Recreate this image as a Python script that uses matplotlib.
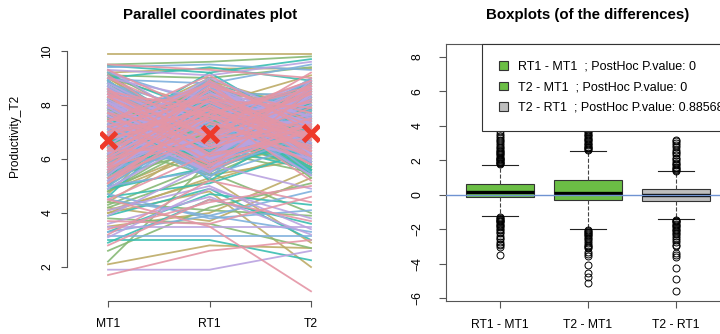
# Parallel coordinates + boxplots of the differences
#---------------------------------------------------

import matplotlib.pyplot as plt
from matplotlib.patches import Patch

plt.rcParams['font.family'] = ['Liberation Sans', 'DejaVu Sans']


# 1 Data
#-------

measures = ['MT1', 'RT1', 'T2']

MT1 = [9.9, 9.5, 9.45, 9.4, 9.3, 9.5, 9.2, 9.1, 9.0, 8.95,
       1.9, 1.7, 2.1, 2.2, 3.0, 3.15, 3.5, 4.5, 4.0, 3.8,
       2.9, 3.3, 3.6, 3.2, 4.2, 4.4, 3.9, 4.7, 4.1, 3.4,
       5.2, 5.8, 6.3, 7.1, 7.9, 8.4, 6.6, 5.5, 4.9, 8.8,
       8.6, 7.4, 6.1, 5.3, 4.6, 7.7, 8.2, 6.9, 5.9, 9.2,
       6.8, 7.3, 8.0, 5.6, 4.8, 6.4, 7.6, 8.5, 9.0, 5.1,
       7.0, 6.2, 5.4, 8.7, 7.2, 6.0, 4.4, 8.1, 7.5, 6.7,
       5.7, 8.3, 6.5, 7.8, 9.1, 5.0, 6.9, 7.4, 8.9, 4.3,
       6.3, 7.1, 8.6, 5.8, 4.7, 7.9, 6.6, 5.2, 8.4, 7.7,
       8.0, 6.4, 5.5, 7.3, 9.3, 6.1, 4.9, 8.2, 7.0, 5.9,
       3.1, 3.7, 4.0, 2.6, 3.3, 4.5, 3.9, 2.8, 3.5, 4.2,
       7.5, 8.8, 6.0, 5.3, 6.8, 7.6, 8.5, 5.6, 6.2, 9.0,
       6.6, 5.1, 7.2, 8.7, 6.9, 5.7, 7.9, 8.3, 4.6, 6.4,
       8.1, 7.0, 5.9, 6.5, 9.1, 7.4, 5.4, 6.7, 8.6, 7.8,
       5.0, 6.3, 7.7, 8.4, 6.1, 4.8, 7.1, 8.9, 5.6, 6.8,
       7.3, 8.0, 6.6, 5.2, 7.6, 8.5, 6.0, 5.8, 7.9, 9.2,
       6.2, 4.5, 8.2, 7.5, 5.5, 6.9, 8.7, 7.2, 6.4, 5.3,
       8.3, 6.7, 7.0, 5.1, 9.0, 7.8, 6.5, 4.9, 8.1, 7.4,
       4.1, 5.6, 6.1, 7.2, 8.8, 6.3, 5.9, 7.6, 8.0, 6.8,
       7.1, 8.6, 5.4, 6.6, 7.7, 8.4, 6.0, 5.7, 7.3, 6.9,
       5.3, 6.7, 8.1, 7.4, 5.9, 8.8, 6.2, 7.6, 4.9, 8.3,
       7.0, 5.6, 6.4, 8.6, 7.8, 5.1, 9.0, 6.9, 7.3, 6.0,
       8.4, 7.2, 5.4, 6.6, 8.9, 7.7, 5.8, 6.3, 8.0, 7.5,
       6.1, 8.7, 7.9, 5.5, 6.8, 7.1, 8.2, 5.0, 6.5, 9.1,
       7.6, 6.0, 8.5, 7.0, 5.7, 6.4, 7.8, 8.6, 5.3, 6.9,
       8.1, 5.9, 6.7, 9.2, 7.4, 6.2, 5.6, 8.3, 7.2, 4.8,
       6.6, 7.9, 5.2, 8.0, 6.3, 8.8, 7.5, 5.8, 6.1, 7.7,
       9.0, 6.8, 7.3, 5.5, 8.4, 6.0, 7.1, 8.9, 6.4, 5.1,
       7.2, 8.5, 6.5, 7.6, 5.4, 8.2, 6.9, 7.0, 8.7, 6.2,
       5.7, 7.4, 8.3, 6.1, 7.9, 5.0, 8.6, 6.7, 7.3, 9.3,
       6.8, 5.5, 7.7, 8.1, 6.3, 7.5, 5.9, 8.4, 6.6, 7.1,
       8.0, 6.4, 5.8, 7.2, 8.8, 6.9, 7.6, 5.3, 8.2, 6.0]

RT1 = [9.9, 9.6, 9.2, 9.5, 9.1, 9.3, 9.35, 9.0, 9.4, 8.8,
       1.9, 2.6, 2.8, 5.9, 3.0, 3.15, 3.5, 3.5, 4.8, 3.6,
       4.5, 3.9, 4.6, 5.2, 3.7, 4.1, 4.9, 3.8, 5.0, 4.4,
       7.0, 6.2, 8.1, 5.4, 7.6, 6.8, 8.9, 6.5, 5.7, 7.3,
       6.0, 8.3, 7.5, 6.9, 5.1, 8.7, 6.4, 7.8, 8.0, 7.2,
       8.5, 6.6, 5.8, 7.9, 6.3, 9.0, 7.1, 6.0, 8.2, 7.7,
       5.5, 7.4, 8.6, 6.1, 8.8, 7.0, 6.7, 5.9, 7.3, 8.4,
       7.9, 6.5, 7.2, 8.1, 6.8, 5.6, 8.5, 9.1, 6.2, 5.8,
       8.0, 5.3, 6.9, 7.6, 8.4, 6.3, 7.4, 8.8, 5.9, 7.0,
       6.7, 8.2, 7.8, 5.6, 7.1, 8.6, 6.4, 7.5, 9.2, 6.1,
       4.9, 3.6, 5.3, 4.2, 4.7, 3.9, 5.8, 4.5, 4.0, 5.5,
       6.3, 7.7, 8.4, 6.9, 5.5, 8.0, 7.2, 6.6, 8.7, 7.4,
       7.8, 8.3, 6.0, 7.1, 9.0, 6.8, 5.7, 7.5, 8.1, 6.4,
       6.2, 8.8, 7.3, 5.4, 7.7, 6.5, 8.2, 7.9, 6.1, 8.5,
       8.6, 7.0, 5.9, 7.6, 8.4, 6.7, 7.2, 6.3, 8.9, 7.5,
       5.8, 7.3, 8.7, 6.9, 6.0, 7.8, 8.3, 7.1, 6.6, 8.0,
       7.6, 6.2, 7.0, 8.5, 7.4, 5.5, 6.8, 8.2, 7.9, 6.4,
       6.9, 8.1, 5.6, 7.3, 7.9, 6.6, 8.6, 7.2, 6.0, 8.8,
       5.2, 7.5, 8.3, 6.4, 7.0, 8.9, 7.7, 5.8, 6.5, 7.1,
       8.4, 6.1, 7.6, 8.0, 5.9, 7.3, 6.8, 8.6, 7.4, 6.2,
       7.2, 8.4, 6.1, 5.8, 8.9, 6.6, 7.7, 5.5, 7.0, 8.1,
       6.3, 8.6, 7.4, 6.0, 5.6, 7.9, 6.8, 8.3, 5.9, 7.5,
       6.5, 5.7, 8.0, 7.3, 6.2, 8.7, 7.1, 6.4, 5.4, 8.5,
       7.8, 6.1, 5.9, 8.2, 7.6, 6.9, 5.2, 7.4, 8.8, 6.7,
       5.8, 7.7, 6.3, 8.9, 7.1, 8.4, 6.0, 5.5, 7.9, 8.3,
       6.9, 8.0, 7.3, 6.4, 5.7, 7.8, 8.6, 6.2, 9.0, 7.0,
       8.1, 6.5, 7.6, 5.9, 8.3, 7.2, 6.1, 8.8, 7.4, 5.6,
       6.7, 7.9, 8.5, 7.1, 6.0, 8.2, 5.8, 6.6, 7.7, 8.4,
       5.5, 6.8, 8.9, 6.3, 7.5, 5.9, 8.1, 7.8, 6.4, 7.2,
       8.6, 6.0, 7.0, 8.7, 5.6, 7.4, 6.9, 8.3, 6.1, 7.6,
       7.3, 8.5, 6.2, 5.8, 8.0, 6.6, 7.9, 7.1, 8.8, 5.7,
       6.4, 7.7, 8.2, 6.8, 7.0, 8.9, 5.5, 7.5, 6.3, 8.1]

T2 = [9.9, 9.8, 9.7, 9.3, 9.6, 9.0, 9.35, 9.4, 8.9, 9.5,
      2.6, 3.0, 2.7, 7.0, 2.25, 3.15, 3.5, 1.1, 2.0, 2.7,
      3.6, 4.8, 3.2, 4.4, 5.3, 3.9, 3.0, 4.1, 3.4, 5.0,
      8.3, 5.9, 7.2, 6.6, 5.4, 8.7, 7.8, 6.1, 7.5, 6.9,
      7.4, 6.8, 8.9, 5.7, 6.3, 7.0, 8.2, 5.2, 9.1, 6.5,
      6.2, 8.5, 7.1, 6.7, 7.9, 5.6, 8.0, 7.3, 6.4, 8.6,
      8.8, 5.8, 6.9, 7.7, 6.0, 8.4, 7.2, 9.0, 5.5, 7.6,
      6.6, 7.9, 8.1, 5.3, 7.4, 8.7, 6.2, 7.0, 8.3, 6.8,
      7.1, 8.6, 6.0, 8.9, 5.9, 7.7, 8.0, 6.5, 7.3, 9.2,
      5.7, 7.5, 8.4, 6.9, 8.1, 6.3, 7.8, 5.4, 7.0, 8.8,
      3.8, 4.6, 2.9, 5.1, 4.3, 3.3, 4.9, 3.7, 5.6, 4.0,
      8.0, 6.4, 7.6, 8.5, 7.2, 5.8, 6.7, 9.0, 7.3, 6.1,
      6.9, 7.3, 8.8, 6.0, 7.5, 8.2, 6.6, 5.5, 7.8, 8.4,
      7.7, 6.1, 8.3, 7.0, 5.9, 8.6, 7.4, 6.3, 8.0, 7.2,
      6.5, 8.9, 7.3, 5.8, 7.9, 6.7, 8.5, 7.1, 6.2, 8.1,
      8.7, 6.0, 7.0, 7.8, 8.3, 6.4, 5.6, 7.6, 8.9, 7.1,
      7.3, 6.8, 5.7, 8.0, 8.8, 7.5, 6.3, 7.9, 6.6, 8.2,
      5.9, 7.6, 8.4, 6.5, 7.1, 8.3, 7.0, 6.1, 8.7, 7.4,
      6.3, 8.1, 6.9, 7.7, 6.0, 7.2, 8.6, 7.5, 5.6, 8.9,
      7.9, 7.0, 8.2, 6.4, 7.6, 5.9, 8.0, 6.7, 7.3, 8.5,
      6.4, 5.9, 8.6, 7.1, 6.3, 7.8, 5.5, 8.2, 7.4, 6.7,
      8.8, 7.0, 6.1, 7.6, 8.4, 5.8, 7.3, 6.5, 8.0, 6.9,
      7.2, 8.5, 6.6, 5.7, 7.9, 6.2, 8.7, 7.5, 6.0, 8.3,
      5.6, 7.7, 8.9, 6.8, 6.0, 8.1, 7.4, 6.3, 5.9, 7.0,
      8.2, 6.5, 7.1, 5.8, 8.6, 6.9, 7.8, 8.4, 6.2, 5.5,
      7.5, 6.1, 8.3, 7.9, 6.7, 5.4, 7.2, 8.8, 6.4, 7.6,
      5.9, 8.0, 6.8, 7.3, 5.6, 8.5, 7.7, 6.0, 8.9, 7.1,
      6.6, 5.8, 7.4, 8.6, 7.0, 6.3, 8.1, 7.9, 5.7, 8.4,
      8.7, 7.2, 6.0, 5.5, 8.2, 7.6, 6.5, 6.9, 8.0, 5.9,
      7.0, 8.4, 6.2, 7.7, 8.8, 6.1, 5.6, 7.3, 8.5, 6.8,
      5.7, 6.9, 8.1, 7.4, 6.4, 8.6, 7.0, 5.9, 7.8, 8.3,
      7.3, 8.7, 6.0, 5.6, 7.5, 6.6, 8.4, 7.2, 6.8, 5.8]

means = [6.7, 6.93, 6.96]

# boxplot summaries of the differences
diff_names = ['RT1 - MT1', 'T2 - MT1', 'T2 - RT1']
q1 = [-0.16, -0.31, -0.35]
med = [0.13, 0.10, 0.0]
q3 = [0.62, 0.85, 0.33]
whislo = [-1.26, -1.98, -1.40]
whishi = [1.72, 2.56, 1.36]
out_1 = [1.78, 1.82, 1.86, 1.9, 1.95, 2.0, 2.05, 2.1, 2.16, 2.22, 2.28, 2.35,
         2.42, 2.5, 2.55, 2.62, 2.7, 2.8, 2.9, 3.0, 3.1, 3.2, 3.3, 3.42, 3.55,
         3.7, 3.85, 4.0,
         -1.3, -1.35, -1.4, -1.45, -1.5, -1.55, -1.6, -1.68, -1.75, -1.82,
         -1.9, -1.98, -2.05, -2.15, -2.25, -2.4, -2.5, -2.6, -2.75, -2.85,
         -2.95, -3.05, -3.5]
out_2 = [2.6, 2.65, 2.7, 2.75, 2.8, 2.88, 2.95, 3.02, 3.1, 3.18, 3.25, 3.32,
         3.4, 3.48, 3.55, 3.62, 3.7, 3.78, 3.9,
         -2.05, -2.1, -2.15, -2.2, -2.28, -2.35, -2.42, -2.5, -2.6, -2.7,
         -2.8, -2.9, -3.0, -3.05, -3.12, -3.3, -3.45, -3.55, -4.1, -4.55,
         -4.78, -5.13]
out_3 = [1.4, 1.45, 1.5, 1.55, 1.62, 1.7, 1.78, 1.85, 1.95, 2.05, 2.15, 2.28,
         2.4, 2.5, 2.62, 2.75, 2.9, 3.0, 3.1, 3.2,
         -1.45, -1.5, -1.55, -1.6, -1.68, -1.75, -1.82, -1.9, -1.98, -2.05,
         -2.12, -2.2, -2.3, -2.4, -2.5, -2.62, -2.75, -2.9, -3.0, -3.4, -3.5,
         -3.6, -4.25, -4.9, -5.6]
outliers = [out_1, out_2, out_3]
p_values = ['0', '0', '0.88568']
box_colors = ['#6BBE45', '#6BBE45', '#BEBEBE']


# 2 Figure
#---------

fig = plt.figure(figsize=(7.2, 3.34), dpi=100)
W, H = 720.0, 334.0

def place(left, top, right, bottom):
    return [left / W, 1 - bottom / H, (right - left) / W, (bottom - top) / H]

axis_col = '#555555'
tick_size = 8.7


# 3 Parallel coordinates plot
#----------------------------

ax1 = fig.add_axes(place(100, 38, 319, 301))
palette = ['#BDAB66', '#86B875', '#39BEB1', '#7DB0DD', '#B9A2E0', '#E495A5']
xs = [1, 2, 3]
for layer in range(len(palette)):
    for i in range(len(MT1)):
        if i % len(palette) == layer:
            ax1.plot(xs, [MT1[i], RT1[i], T2[i]], color=palette[layer],
                     lw=1.3, alpha=0.9)
ax1.plot(xs, means, 'x', color='#EE3A2B', ms=11, mew=3.6, zorder=10)

ax1.set_xlim(1 - 8 / 101.5, 3 + 8 / 101.5)
ax1.set_ylim(2 - 34 / 27.0, 10 + 13 / 27.0)
for s in ['top', 'right']:
    ax1.spines[s].set_visible(False)
ax1.spines['left'].set_position(('outward', 33 * 0.72))
ax1.spines['left'].set_bounds(2, 10)
ax1.spines['bottom'].set_bounds(1, 3)
for s in ['left', 'bottom']:
    ax1.spines[s].set_color(axis_col)
    ax1.spines[s].set_linewidth(0.8)
ax1.set_xticks(xs)
ax1.set_xticklabels(measures)
ax1.set_yticks([2, 4, 6, 8, 10])
ax1.tick_params(axis='both', length=4.3, width=0.8, color=axis_col,
                labelsize=tick_size)
ax1.tick_params(axis='x', pad=8)
ax1.tick_params(axis='y', pad=5.5)
for lab in ax1.get_yticklabels():
    lab.set_rotation(90)
    lab.set_va('center')

fig.text(210 / W, 1 - 15 / H, 'Parallel coordinates plot', ha='center',
         va='center', fontsize=10.8, fontweight='bold')
fig.text(15 / W, 1 - 136 / H, 'Productivity_T2', ha='center', va='center',
         rotation=90, fontsize=8.6)


# 4 Boxplots of the differences
#------------------------------

ax2 = fig.add_axes(place(446, 44, 730, 301))
stats = []
for k in range(3):
    stats.append(dict(q1=q1[k], med=med[k], q3=q3[k], whislo=whislo[k],
                      whishi=whishi[k], fliers=outliers[k], label=diff_names[k]))
bp = ax2.bxp(stats, positions=[1, 2, 3], widths=0.77, capwidths=0.41,
             patch_artist=True,
             boxprops=dict(edgecolor='#333333', linewidth=0.8),
             medianprops=dict(color='black', linewidth=2.4),
             whiskerprops=dict(color='#444444', linewidth=0.8, linestyle='--'),
             capprops=dict(color='#222222', linewidth=0.8),
             flierprops=dict(marker='o', markersize=5, markerfacecolor='none',
                             markeredgecolor='black', markeredgewidth=0.7))
for patch, col in zip(bp['boxes'], box_colors):
    patch.set_facecolor(col)
ax2.axhline(0, color='#6F93D2', lw=1.0, zorder=5)

ax2.set_xlim(1 - 54 / 88.0, 3 + 54 / 88.0)
ax2.set_ylim(-6 - 3 / 17.21, 8 + 13 / 17.21)
ax2.set_yticks([-6, -4, -2, 0, 2, 4, 6, 8])
ax2.set_xticks([1, 2, 3])
ax2.set_xticklabels(diff_names)
for s in ax2.spines.values():
    s.set_color(axis_col)
    s.set_linewidth(0.8)
ax2.tick_params(axis='both', length=5, width=0.8, color=axis_col,
                labelsize=tick_size)
ax2.tick_params(axis='x', pad=8)
ax2.tick_params(axis='y', pad=11)
for lab in ax2.get_yticklabels():
    lab.set_rotation(90)
    lab.set_va('center')

handles = [Patch(facecolor=box_colors[k], edgecolor='#333333', linewidth=0.8)
           for k in range(3)]
labels = [diff_names[k] + '  ; PostHoc P.value: ' + p_values[k]
          for k in range(3)]
leg = ax2.legend(handles, labels, loc='upper left',
                 bbox_to_anchor=((482 - 446) / 284.0, 1.0), borderaxespad=0,
                 fontsize=9, fancybox=False, framealpha=1, edgecolor='#333333',
                 handlelength=0.7, handleheight=0.7, handletextpad=0.8,
                 borderpad=1.35, labelspacing=0.68)
leg.get_frame().set_linewidth(0.8)
leg.set_zorder(20)

fig.text(588 / W, 1 - 15 / H, 'Boxplots (of the differences)', ha='center',
         va='center', fontsize=10.8, fontweight='bold')

fig.savefig('out.png', dpi=100)
